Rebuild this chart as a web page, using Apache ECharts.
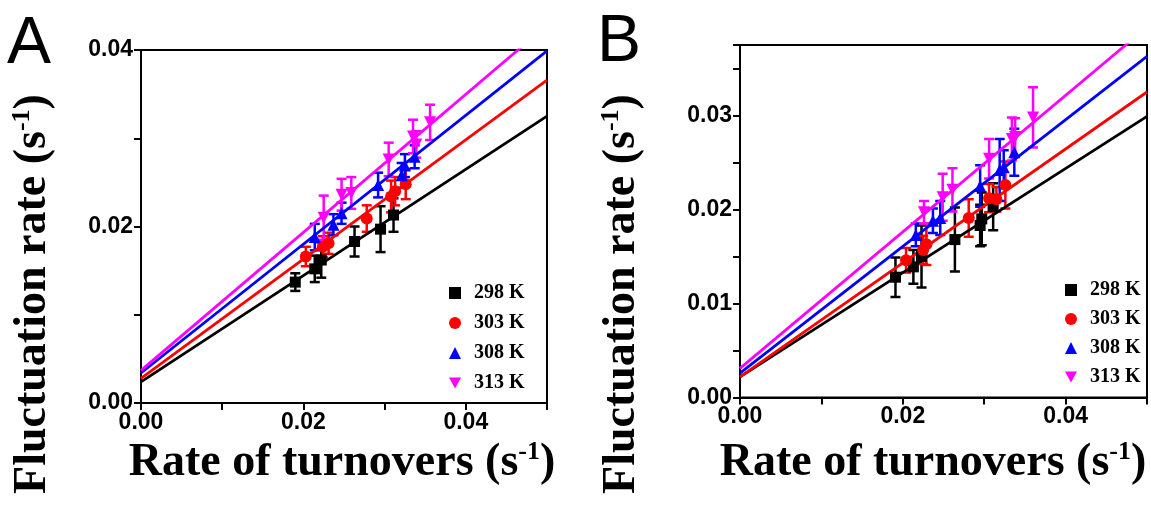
<!DOCTYPE html>
<html>
<head>
<meta charset="utf-8">
<script src="https://cdn.jsdelivr.net/npm/echarts@6/dist/echarts.min.js"></script>
<style>html,body{margin:0;padding:0;background:#fff}#c{width:1151px;height:505px}</style>
</head>
<body>
<div id="c"></div>
<script>
// ---- data ----
const temps = ['298 K', '303 K', '308 K', '313 K'];
const colors = ['#000000', '#ff0000', '#0000ff', '#ff00ff'];

// Panel A
const A298x = [0.0190, 0.0214, 0.0222, 0.0263, 0.0295, 0.0311];
const A298y = [0.0137, 0.0152, 0.0162, 0.0183, 0.0197, 0.0213];
const A298e = [0.0010, 0.0015, 0.0020, 0.0017, 0.0026, 0.0019];
const A303x = [0.0203, 0.0224, 0.0231, 0.0278, 0.0308, 0.0313, 0.0326];
const A303y = [0.0166, 0.0177, 0.0181, 0.0209, 0.0234, 0.0240, 0.0248];
const A303e = [0.0011, 0.0012, 0.0012, 0.0015, 0.0018, 0.0016, 0.0017];
const A308x = [0.0214, 0.0237, 0.0247, 0.0292, 0.0321, 0.0325, 0.0337];
const A308y = [0.0188, 0.0202, 0.0215, 0.0247, 0.0258, 0.0269, 0.0279];
const A308e = [0.0015, 0.0012, 0.0012, 0.0014, 0.0014, 0.0013, 0.0013];
const A313x = [0.0225, 0.0247, 0.0259, 0.0305, 0.0335, 0.0339, 0.0356];
const A313y = [0.0210, 0.0236, 0.0238, 0.0276, 0.0302, 0.0293, 0.0318];
const A313e = [0.0025, 0.0018, 0.0018, 0.0019, 0.0019, 0.0015, 0.0020];
// fitted lines A: value at x = 0 and at x = 0.05
const fitAx = [0, 0.05];
const fitA298 = [0.0024, 0.0325];
const fitA303 = [0.0028, 0.0366];
const fitA308 = [0.0034, 0.0399];
const fitA313 = [0.0037, 0.0428];

// Panel B
const B298x = [0.0191, 0.0213, 0.0223, 0.0264, 0.0295, 0.0297, 0.0311];
const B298y = [0.0128, 0.0139, 0.0150, 0.0168, 0.0183, 0.0190, 0.0203];
const B298e = [0.0021, 0.0018, 0.0033, 0.0034, 0.0022, 0.0028, 0.0025];
const B303x = [0.0204, 0.0225, 0.0229, 0.0281, 0.0306, 0.0315, 0.0326];
const B303y = [0.0146, 0.0157, 0.0163, 0.0191, 0.0212, 0.0211, 0.0226];
const B303e = [0.0013, 0.0015, 0.0022, 0.0020, 0.0015, 0.0013, 0.0025];
const B308x = [0.0216, 0.0237, 0.0246, 0.0295, 0.0319, 0.0324, 0.0337];
const B308y = [0.0173, 0.0188, 0.0191, 0.0225, 0.0242, 0.0245, 0.0261];
const B308e = [0.0012, 0.0013, 0.0018, 0.0022, 0.0033, 0.0018, 0.0025];
const B313x = [0.0226, 0.0249, 0.0261, 0.0306, 0.0334, 0.0338, 0.0360];
const B313y = [0.0197, 0.0213, 0.0221, 0.0254, 0.0275, 0.0277, 0.0298];
const B313e = [0.0012, 0.0025, 0.0023, 0.0021, 0.0023, 0.0020, 0.0032];
const fitBx = [0, 0.05];
const fitB298 = [0.0022, 0.0299];
const fitB303 = [0.0022, 0.0325];
const fitB308 = [0.0026, 0.0363];
const fitB313 = [0.0031, 0.0394];

// axis ranges / tick labels
const xMin = 0, xMax = 0.05, xStep = 0.01;
const yMaxA = 0.04, yStepA = 0.01;
const yMaxB = 0.0375, yStepB = 0.005;
const xLabelStep = 0.02, yLabelStepA = 0.02, yLabelStepB = 0.01;

const xTitle = 'Rate of turnovers (s{sup|-1})';
const yTitle = 'Fluctuation rate (s{sup|-1})';
// ------------------------------------

const downTri = 'path://M0,0 L10,0 L5,9 Z';
const symbols = ['rect', 'circle', 'triangle', downTri];
const symSizes = [11, 12, 12, 12];

const panels = [
  {x: [A298x, A303x, A308x, A313x], y: [A298y, A303y, A308y, A313y], e: [A298e, A303e, A308e, A313e],
   fx: fitAx, f: [fitA298, fitA303, fitA308, fitA313]},
  {x: [B298x, B303x, B308x, B313x], y: [B298y, B303y, B308y, B313y], e: [B298e, B303e, B308e, B313e],
   fx: fitBx, f: [fitB298, fitB303, fitB308, fitB313]}
];

function labelFmt(step) {
  return function (v) {
    const r = v / step;
    return Math.abs(r - Math.round(r)) < 1e-6 ? v.toFixed(2) : '';
  };
}

const tickFont = {fontFamily: 'Liberation Sans', fontWeight: 'bold', fontSize: 23, color: '#000'};

function makeXAxis(gi) {
  return {
    type: 'value', gridIndex: gi, min: xMin, max: xMax, interval: xStep,
    axisLine: {show: true, lineStyle: {color: '#000', width: 2}},
    axisTick: {show: true, inside: false, length: 7, lineStyle: {color: '#000', width: 2}},
    axisLabel: Object.assign({formatter: labelFmt(xLabelStep), margin: 8, showMaxLabel: true}, tickFont),
    splitLine: {show: false}
  };
}
function makeYAxis(gi, max, step, lstep) {
  return {
    type: 'value', gridIndex: gi, min: 0, max: max, interval: step,
    axisLine: {show: true, lineStyle: {color: '#000', width: 2}},
    axisTick: {show: true, inside: false, length: 7, lineStyle: {color: '#000', width: 2}},
    axisLabel: Object.assign({formatter: labelFmt(lstep), margin: 8, showMaxLabel: true}, tickFont),
    splitLine: {show: false}
  };
}

const series = [];
panels.forEach(function (p, gi) {
  for (let k = 0; k < 4; k++) {
    const errData = p.x[k].map(function (xv, i) { return [xv, p.y[k][i], p.e[k][i]]; });
    series.push({
      type: 'custom', name: 'err' + gi + k, xAxisIndex: gi, yAxisIndex: gi, z: 2,
      clip: true,
      data: errData,
      renderItem: function (params, api) {
        const x = api.value(0), y = api.value(1), e = api.value(2);
        const top = api.coord([x, y + e]);
        const bot = api.coord([x, y - e]);
        const c = colors[k];
        const st = {stroke: c, lineWidth: 2.5};
        return {
          type: 'group',
          children: [
            {type: 'line', shape: {x1: top[0], y1: top[1], x2: bot[0], y2: bot[1]}, style: st},
            {type: 'line', shape: {x1: top[0] - 5, y1: top[1], x2: top[0] + 5, y2: top[1]}, style: st},
            {type: 'line', shape: {x1: bot[0] - 5, y1: bot[1], x2: bot[0] + 5, y2: bot[1]}, style: st}
          ]
        };
      }
    });
    series.push({
      type: 'line', name: 'fit' + gi + k, xAxisIndex: gi, yAxisIndex: gi, z: 3,
      showSymbol: false, symbol: 'none', clip: true, silent: true,
      lineStyle: {color: colors[k], width: 2.8},
      data: p.fx.map(function (xv, i) { return [xv, p.f[k][i]]; })
    });
    series.push({
      type: 'scatter', name: temps[k], xAxisIndex: gi, yAxisIndex: gi, z: 4,
      symbol: symbols[k], symbolSize: symSizes[k],
      itemStyle: {color: colors[k], opacity: 1},
      data: p.x[k].map(function (xv, i) { return [xv, p.y[k][i]]; })
    });
  }
});

const legendText = {fontFamily: 'Liberation Serif', fontWeight: 'bold', fontSize: 20, color: '#000',
  lineHeight: 20, padding: [0, 0, 0, 8]};

function titleStyle(text) {
  return {
    text: text,
    font: 'bold 46px "Liberation Serif"',
    fill: '#000',
    align: 'center',
    verticalAlign: 'middle',
    rich: {sup: {fontSize: 26, fontWeight: 'bold', fontFamily: 'Liberation Serif', verticalAlign: 'top', lineHeight: 48}}
  };
}

const option = {
  backgroundColor: '#fff',
  animation: false,
  grid: [
    {left: 141, top: 50, width: 406, height: 353, show: true, borderColor: '#000', borderWidth: 2, backgroundColor: 'transparent'},
    {left: 740, top: 45, width: 407, height: 352.5, show: true, borderColor: '#000', borderWidth: 2, backgroundColor: 'transparent'}
  ],
  xAxis: [makeXAxis(0), makeXAxis(1)],
  yAxis: [makeYAxis(0, yMaxA, yStepA, yLabelStepA), makeYAxis(1, yMaxB, yStepB, yLabelStepB)],
  legend: [
    {orient: 'vertical', left: 444, top: 278, itemWidth: 12, itemHeight: 12, itemGap: 10,
     data: temps, textStyle: legendText, selectedMode: false},
    {orient: 'vertical', left: 1060, top: 275, itemWidth: 12, itemHeight: 12, itemGap: 9,
     data: temps, textStyle: legendText, selectedMode: false}
  ],
  graphic: [
    {type: 'text', left: 7, top: 12, style: {text: 'A', font: '66px "Liberation Sans"', fill: '#000'}},
    {type: 'text', left: 597, top: 10, style: {text: 'B', font: '66px "Liberation Sans"', fill: '#000'}},
    {type: 'text', x: 342, y: 463, style: titleStyle(xTitle)},
    {type: 'text', x: 933, y: 463, style: titleStyle(xTitle)},
    {type: 'text', x: 33, y: 294, rotation: Math.PI / 2, style: titleStyle(yTitle)},
    {type: 'text', x: 622, y: 294, rotation: Math.PI / 2, style: titleStyle(yTitle)}
  ],
  series: series
};

const chart = echarts.init(document.getElementById('c'), null, {renderer: 'canvas'});
chart.setOption(option);
</script>
</body>
</html>
